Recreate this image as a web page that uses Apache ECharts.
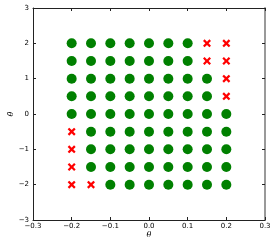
<!DOCTYPE html>
<html>
<head>
<meta charset="utf-8">
<script src="https://cdn.jsdelivr.net/npm/echarts@6/dist/echarts.min.js"></script>
<style>html,body{margin:0;padding:0;background:#fff}#c{width:277px;height:245px}</style>
</head>
<body>
<div id="c"></div>
<script>
var thetaValues = [-0.2, -0.15, -0.1, -0.05, 0.0, 0.05, 0.1, 0.15, 0.2];
var thetaDotValues = [-2, -1.5, -1, -0.5, 0, 0.5, 1, 1.5, 2];
// failed (red cross) points: [theta, thetaDot]
var failTheta =    [0.15, 0.2, 0.15, 0.2, 0.2, 0.2, -0.2, -0.2, -0.2, -0.2, -0.15];
var failThetaDot = [2,    2,   1.5,  1.5, 1,   0.5, -0.5, -1,   -1.5, -2,   -2];
var xTicks = [-0.3, -0.2, -0.1, 0.0, 0.1, 0.2, 0.3];
var yTicks = [-3, -2, -1, 0, 1, 2, 3];

var failData = [], okData = [];
for (var i = 0; i < failTheta.length; i++) failData.push([failTheta[i], failThetaDot[i]]);
thetaValues.forEach(function (x) {
  thetaDotValues.forEach(function (y) {
    var f = false;
    for (var i = 0; i < failTheta.length; i++) if (failTheta[i] === x && failThetaDot[i] === y) f = true;
    if (!f) okData.push([x, y]);
  });
});

function fmtX(v) { var s = Math.abs(v).toFixed(1); return (v < -1e-9 ? '\u2212' : '') + s; }
function fmtY(v) { return (v < 0 ? '\u2212' : '') + Math.abs(v); }

var lineStyle = { color: '#222', width: 1 };
var labelStyle = { fontSize: 7, color: '#000', fontFamily: 'DejaVu Sans' };
var chart = echarts.init(document.getElementById('c'), null, { renderer: 'canvas' });
chart.setOption({
  animation: false,
  grid: { left: 33, right: 12, top: 8, bottom: 25, show: false, containLabel: false, outerBoundsMode: 'none' },
  xAxis: [{
    type: 'value', min: -0.3, max: 0.3, interval: 0.1,
    name: 'θ', nameLocation: 'middle', nameGap: 11, nameMoveOverlap: false,
    nameTextStyle: { fontSize: 8, fontStyle: 'italic', color: '#000', fontFamily: 'DejaVu Serif' },
    axisLine: { show: true, onZero: false, lineStyle: lineStyle },
    axisTick: { show: true, inside: true, length: 3, lineStyle: lineStyle },
    axisLabel: { formatter: fmtX, margin: 3, ...labelStyle },
    splitLine: { show: false }
  }, {
    type: 'value', min: -0.3, max: 0.3, interval: 0.1, position: 'top',
    axisLine: { show: true, onZero: false, lineStyle: lineStyle },
    axisTick: { show: true, inside: true, length: 3, lineStyle: lineStyle },
    axisLabel: { show: false }, splitLine: { show: false }
  }],
  yAxis: [{
    type: 'value', min: -3, max: 3, interval: 1,
    name: 'θ\u0307', nameLocation: 'middle', nameGap: 18, nameRotate: 90, nameMoveOverlap: false,
    nameTextStyle: { fontSize: 8, fontStyle: 'italic', color: '#000', fontFamily: 'DejaVu Serif' },
    axisLine: { show: true, onZero: false, lineStyle: lineStyle },
    axisTick: { show: true, inside: true, length: 3, lineStyle: lineStyle },
    axisLabel: { formatter: fmtY, margin: 4, ...labelStyle },
    splitLine: { show: false }
  }, {
    type: 'value', min: -3, max: 3, interval: 1, position: 'right',
    axisLine: { show: true, onZero: false, lineStyle: { color: '#999', width: 2 } },
    axisTick: { show: true, inside: true, length: 3, lineStyle: lineStyle },
    axisLabel: { show: false }, splitLine: { show: false }
  }],
  series: [{
    type: 'scatter', data: okData, symbol: 'circle', symbolSize: 10,
    itemStyle: { color: '#008000', opacity: 1 }, xAxisIndex: 0, yAxisIndex: 0
  }, {
    type: 'scatter', data: failData,
    symbol: 'path://M0,2 L2,0 L5,3 L8,0 L10,2 L7,5 L10,8 L8,10 L5,7 L2,10 L0,8 L3,5 Z',
    symbolSize: 8, itemStyle: { color: '#ff0000', opacity: 1 }, xAxisIndex: 0, yAxisIndex: 0
  }]
});
</script>
</body>
</html>
